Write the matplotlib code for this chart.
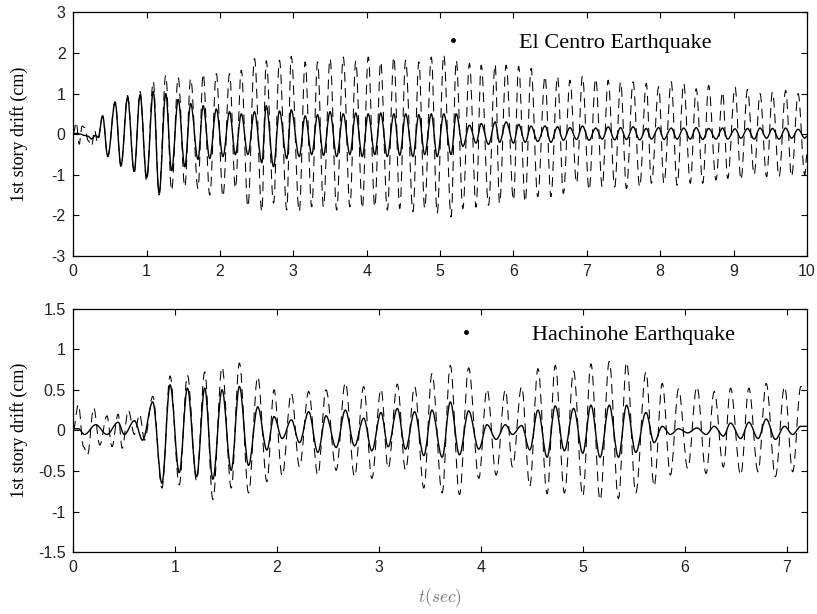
"""
Story drift response: El Centro and Hachinohe records
"""
import numpy as np
import matplotlib
matplotlib.use('Agg')
import matplotlib.pyplot as plt
from matplotlib.lines import Line2D
from matplotlib.path import Path
from matplotlib.patches import PathPatch
from matplotlib.ticker import FuncFormatter

# ---------------- El Centro (upper panel) ----------------
ec_start_t = [0.0, 0.05, 0.10, 0.15, 0.20, 0.25, 0.30, 0.34]
ec_solid_start = [0.0, 0.02, 0.0, -0.03, -0.05, -0.12, -0.03, -0.08]
ec_dash_start_t = [0.0, 0.04, 0.08, 0.12, 0.16, 0.20, 0.25, 0.29, 0.33]
ec_dash_start = [0.0, 0.3, -0.25, 0.2, 0.16, -0.15, -0.3, 0.1, -0.2]

ec_peak_t = [0.40, 0.57, 0.74, 0.91, 1.09, 1.26, 1.43, 1.60, 1.77, 1.95,
             2.13, 2.29, 2.47, 2.63, 2.81, 2.97, 3.16, 3.33, 3.50, 3.68,
             3.85, 4.02, 4.19, 4.37, 4.53, 4.71, 4.88, 5.05, 5.22, 5.40,
             5.56, 5.75, 5.90, 6.07, 6.24, 6.43, 6.60, 6.77, 6.94, 7.12,
             7.29, 7.46, 7.63, 7.81, 7.98, 8.15, 8.32, 8.49, 8.66, 8.85,
             9.02, 9.19, 9.36, 9.53, 9.71, 9.88]
ec_trough_t = [0.47, 0.65, 0.83, 1.00, 1.17, 1.34, 1.52, 1.70, 1.86, 2.04,
               2.21, 2.38, 2.57, 2.73, 2.91, 3.08, 3.25, 3.41, 3.59, 3.77,
               3.94, 4.11, 4.28, 4.45, 4.63, 4.79, 4.96, 5.15, 5.31, 5.49,
               5.66, 5.81, 6.00, 6.16, 6.33, 6.51, 6.68, 6.86, 7.03, 7.21,
               7.38, 7.54, 7.72, 7.88, 8.05, 8.23, 8.41, 8.58, 8.76, 8.92,
               9.10, 9.28, 9.45, 9.62, 9.79, 9.97]

# uncontrolled (dashed)
ec_dash_peak = [0.45, 0.8, 0.95, 1.05, 1.3, 1.45, 1.4, 1.37, 1.49, 1.49,
                1.49, 1.58, 1.86, 1.81, 1.82, 1.92, 1.78, 1.78, 1.86, 1.9,
                1.8, 1.9, 1.78, 1.9, 1.82, 1.78, 1.9, 1.95, 1.82, 1.74,
                1.70, 1.72, 1.70, 1.67, 1.62, 1.43, 1.42, 1.33, 1.43, 1.37,
                1.33, 1.29, 1.29, 1.25, 1.17, 1.29, 1.25, 1.12, 1.2, 1.04,
                1.16, 1.1, 1.0, 1.04, 1.08, 1.0]
ec_dash_trough = [-0.55, -0.8, -0.95, -1.15, -1.5, -1.39, -1.30, -1.34, -1.50, -1.54,
                  -1.34, -1.79, -1.91, -1.7, -1.87, -1.91, -1.79, -1.79, -1.87, -1.79,
                  -1.83, -1.79, -1.87, -1.83, -1.91, -1.83, -1.95, -2.04, -1.83, -1.8,
                  -1.75, -1.71, -1.63, -1.67, -1.54, -1.54, -1.46, -1.21, -1.38, -1.30,
                  -1.30, -1.34, -1.30, -1.21, -1.21, -1.26, -1.21, -1.21, -1.13, -1.09,
                  -1.13, -1.0, -1.05, -1.05, -1.05, -1.0]

# controlled (solid)
ec_solid_peak = [0.45, 0.78, 0.9, 0.97, 1.05, 1.0, 0.85, 0.75, 0.7, 0.62,
                 0.55, 0.5, 0.55, 0.7, 0.57, 0.6, 0.45, 0.48, 0.55, 0.5,
                 0.52, 0.5, 0.52, 0.5, 0.5, 0.48, 0.5, 0.5, 0.5, 0.22,
                 0.26, 0.3, 0.3, 0.24, 0.2, 0.2, 0.18, 0.16, 0.2, 0.15,
                 0.18, 0.16, 0.18, 0.14, 0.16, 0.15, 0.15, 0.16, 0.14, 0.15,
                 0.13, 0.14, 0.15, 0.14, 0.15, 0.12]
ec_solid_trough = [-0.55, -0.78, -0.92, -1.07, -1.45, -0.9, -0.8, -0.62, -0.6, -0.55,
                   -0.5, -0.5, -0.7, -0.8, -0.6, -0.55, -0.5, -0.52, -0.55, -0.5,
                   -0.55, -0.5, -0.55, -0.52, -0.55, -0.5, -0.55, -0.5, -0.3, -0.22,
                   -0.25, -0.2, -0.22, -0.2, -0.18, -0.2, -0.15, -0.13, -0.15, -0.12,
                   -0.14, -0.13, -0.14, -0.12, -0.13, -0.12, -0.12, -0.13, -0.12, -0.12,
                   -0.1, -0.12, -0.1, -0.12, -0.1, -0.1]
ec_end_t = 10.0
ec_dash_end = -0.5
ec_solid_end = -0.05

# ---------------- Hachinohe (lower panel) ----------------
hc_solid_start_t = [0.0, 0.05, 0.11, 0.22, 0.33, 0.44, 0.50, 0.60, 0.68]
hc_solid_start = [0.02, 0.02, -0.05, 0.07, -0.05, 0.1, -0.05, 0.12, -0.12]
hc_dash_start_t = [0.0, 0.05, 0.10, 0.14, 0.20, 0.26, 0.33, 0.38, 0.44,
                   0.48, 0.54, 0.60, 0.65, 0.70]
hc_dash_start = [0.0, 0.32, -0.2, -0.3, 0.28, -0.18, 0.18, -0.2, 0.2,
                 -0.22, 0.25, -0.05, 0.2, -0.12]

hc_peak_t = [0.78, 0.95, 1.12, 1.29, 1.46, 1.63, 1.81, 1.97, 2.14, 2.31,
             2.48, 2.67, 2.85, 3.02, 3.18, 3.35, 3.52, 3.70, 3.88, 4.06,
             4.24, 4.40, 4.56, 4.73, 4.91, 5.08, 5.26, 5.43, 5.62, 5.78,
             5.94, 6.12, 6.29, 6.45, 6.63, 6.80, 6.98, 7.14]
hc_trough_t = [0.87, 1.04, 1.21, 1.37, 1.55, 1.72, 1.90, 2.05, 2.22, 2.40,
               2.58, 2.76, 2.93, 3.09, 3.26, 3.44, 3.62, 3.79, 3.98, 4.15,
               4.31, 4.48, 4.65, 4.82, 5.00, 5.17, 5.35, 5.52, 5.70, 5.86,
               6.03, 6.21, 6.38, 6.55, 6.72, 6.89, 7.06]

hc_dash_peak = [0.42, 0.67, 0.68, 0.72, 0.78, 0.83, 0.66, 0.5, 0.46, 0.48,
                0.5, 0.59, 0.54, 0.51, 0.57, 0.54, 0.70, 0.80, 0.77, 0.51,
                0.5, 0.54, 0.76, 0.8, 0.73, 0.82, 0.85, 0.84, 0.72, 0.58,
                0.51, 0.54, 0.48, 0.52, 0.52, 0.58, 0.54, 0.54]
hc_dash_trough = [-0.71, -0.67, -0.62, -0.85, -0.71, -0.77, -0.63, -0.56, -0.45, -0.55,
                  -0.49, -0.57, -0.59, -0.47, -0.49, -0.71, -0.77, -0.79, -0.59, -0.55,
                  -0.45, -0.69, -0.78, -0.77, -0.81, -0.86, -0.84, -0.77, -0.69, -0.55,
                  -0.47, -0.53, -0.45, -0.55, -0.51, -0.57, -0.51]

hc_solid_peak = [0.35, 0.56, 0.52, 0.52, 0.5, 0.54, 0.29, 0.17, 0.13, 0.23,
                 0.18, 0.25, 0.15, 0.22, 0.27, 0.23, 0.25, 0.35, 0.24, 0.07,
                 0.07, 0.06, 0.25, 0.3, 0.27, 0.31, 0.31, 0.31, 0.22, 0.05,
                 0.02, 0.03, 0.05, 0.09, 0.1, 0.14, 0.05, 0.05]
hc_solid_trough = [-0.65, -0.52, -0.57, -0.6, -0.49, -0.43, -0.24, -0.1, -0.15, -0.27,
                   -0.21, -0.19, -0.25, -0.2, -0.23, -0.31, -0.33, -0.3, -0.23, -0.11,
                   -0.05, -0.24, -0.33, -0.25, -0.28, -0.33, -0.33, -0.27, -0.15, -0.05,
                   -0.03, -0.05, -0.07, -0.1, -0.1, -0.11, -0.05]
hc_end_t = 7.2
hc_dash_end = 0.55
hc_solid_end = 0.05

ec_yticks = [-3, -2, -1, 0, 1, 2, 3]
ec_xticks = list(range(0, 11))
hc_yticks = [-1.5, -1, -0.5, 0, 0.5, 1, 1.5]
hc_xticks = list(range(0, 8))


def trace(start_t, start_v, peak_t, peak_v, trough_t, trough_v, end_t, end_v):
    """Une extremos leídos (pico, valle, pico, ...) en una sola traza"""
    n = len(peak_t) + len(trough_t)
    t = np.empty(n)
    v = np.empty(n)
    t[0::2], v[0::2] = peak_t, peak_v
    t[1::2], v[1::2] = trough_t, trough_v
    t = np.concatenate([start_t, t, [end_t]])
    v = np.concatenate([start_v, v, [end_v]])
    return t, v


def smooth_path(t, v, k=0.36):
    """Curvas Bezier con tangente horizontal en cada extremo"""
    verts = [(t[0], v[0])]
    codes = [Path.MOVETO]
    for i in range(len(t) - 1):
        dt = t[i + 1] - t[i]
        verts += [(t[i] + k * dt, v[i]), (t[i + 1] - k * dt, v[i + 1]), (t[i + 1], v[i + 1])]
        codes += [Path.CURVE4] * 3
    return Path(verts, codes)


plt.rcParams['font.family'] = 'Liberation Sans'
plt.rcParams['mathtext.fontset'] = 'cm'
plt.rcParams['axes.unicode_minus'] = False
plt.rcParams['lines.scale_dashes'] = False

fig = plt.figure(figsize=(8.17, 6.14), dpi=100)
ax1 = fig.add_axes([0.0897, 0.583, 0.898, 0.397])
ax2 = fig.add_axes([0.0897, 0.1005, 0.898, 0.397])

panels = [
    (ax1, trace(ec_dash_start_t, ec_dash_start, ec_peak_t, ec_dash_peak,
                ec_trough_t, ec_dash_trough, ec_end_t, ec_dash_end),
     trace(ec_start_t, ec_solid_start, ec_peak_t, ec_solid_peak,
           ec_trough_t, ec_solid_trough, ec_end_t, ec_solid_end),
     (0, 10), (-3, 3), ec_xticks, ec_yticks, 'El Centro Earthquake', (0.5018, 0.877)),
    (ax2, trace(hc_dash_start_t, hc_dash_start, hc_peak_t, hc_dash_peak,
                hc_trough_t, hc_dash_trough, hc_end_t, hc_dash_end),
     trace(hc_solid_start_t, hc_solid_start, hc_peak_t, hc_solid_peak,
           hc_trough_t, hc_solid_trough, hc_end_t, hc_solid_end),
     (0, 7.2), (-1.5, 1.5), hc_xticks, hc_yticks, 'Hachinohe Earthquake', (0.520, 0.893)),
]

fmt = FuncFormatter(lambda x, pos: f'{x:g}')

for ax, (td, vd), (ts, vs), xlim, ylim, xt, yt, name, anchor in panels:
    ax.add_patch(PathPatch(smooth_path(td, vd), fill=False, edgecolor='black',
                           lw=0.75, linestyle=(0, (7, 4.5))))
    ax.add_patch(PathPatch(smooth_path(ts, vs), fill=False, edgecolor='black', lw=1.0))
    ax.set_xlim(*xlim)
    ax.set_ylim(*ylim)
    ax.set_xticks(xt)
    ax.set_yticks(yt)
    ax.xaxis.set_major_formatter(fmt)
    ax.yaxis.set_major_formatter(fmt)
    ax.tick_params(direction='in', length=4.5, width=0.8, top=True, right=True,
                   labelsize=11.5, labelcolor='#222222', pad=5.5)
    for sp in ax.spines.values():
        sp.set_linewidth(0.9)
    ax.set_ylabel('1st story drift (cm)', family='Liberation Serif', fontsize=13)
    ax.yaxis.set_label_coords(-0.062, 0.5)

    handle = Line2D([], [], marker='.', linestyle='none', color='black', markersize=5)
    ax.legend([handle], [name], loc='center left', bbox_to_anchor=anchor,
              frameon=False, borderpad=0, borderaxespad=0, handlelength=1,
              handletextpad=2.47, prop={'family': 'Liberation Serif', 'size': 16})

ax2.set_xlabel(r'$t(sec)$', fontsize=12.5, color='#777777', labelpad=8)

fig.savefig('out.png', dpi=100)
